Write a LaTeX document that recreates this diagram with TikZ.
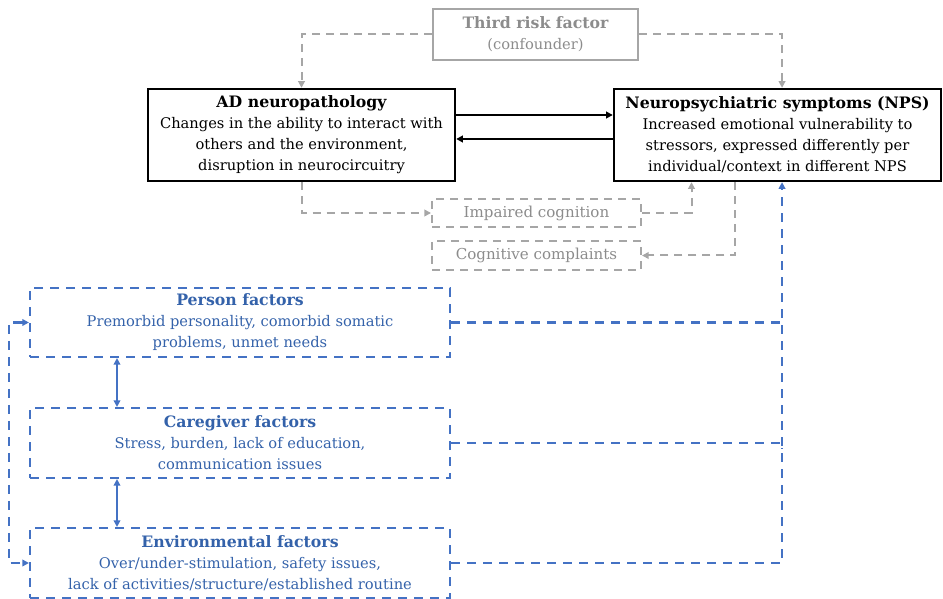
\documentclass[tikz,border=0pt]{standalone}
\usepackage{fontspec}
\setmainfont{DejaVu Serif}
\usetikzlibrary{arrows.meta,positioning,calc}
\definecolor{lblue}{HTML}{4472C4}
\definecolor{tblue}{HTML}{3462AA}
\definecolor{lgray}{HTML}{A6A6A6}
\definecolor{tgray}{HTML}{8C8C8C}
\newcommand{\ttl}[1]{{\fontsize{11.8}{15.75}\selectfont\bfseries #1}}
\tikzset{
  px/.style={x=0.75pt,y=-0.75pt},
  txt/.style={font=\fontsize{11}{15.75}\selectfont},
  blackbox/.style={draw=black,line width=1.8pt,align=center,inner sep=2pt,txt},
  graybox/.style={draw=lgray,line width=1.5pt,align=center,inner sep=2pt,text=tgray,txt},
  graydash/.style={graybox,dash pattern=on 6pt off 4.5pt,font=\fontsize{11.3}{15.75}\selectfont},
  bluebox/.style={draw=lblue,line width=1.6pt,dash pattern=on 7pt off 5pt,align=center,inner sep=2pt,text=tblue,txt},
  grayline/.style={draw=lgray,line width=1.5pt,dash pattern=on 6pt off 4.5pt,-{Triangle[length=5pt,width=5pt]}},
  blueplain/.style={draw=lblue,line width=1.6pt,dash pattern=on 7pt off 5pt},
  blueline/.style={blueplain,-{Triangle[length=5pt,width=5pt]}},
  bluedashdbl/.style={blueplain,{Triangle[length=5pt,width=5pt]}-{Triangle[length=5pt,width=5pt]}},
  blackarr/.style={draw=black,line width=1.5pt,-{Triangle[length=5pt,width=5pt]}},
  bluedbl/.style={draw=lblue,line width=1.6pt,{Triangle[length=5pt,width=5pt]}-{Triangle[length=5pt,width=5pt]}},
}
\begin{document}
\begin{tikzpicture}[px]
\useasboundingbox (0,0) rectangle (943,599);
\node[graybox,minimum width=153.75pt,minimum height=38.25pt] (third) at (535.5,34.5)
  {\ttl{Third risk factor}\\(confounder)};
\node[blackbox,minimum width=230.25pt,minimum height=69pt] (ad) at (301.5,135)
  {\ttl{AD neuropathology}\\Changes in the ability to interact with\\others and the environment,\\disruption in neurocircuitry};
\node[blackbox,minimum width=245.25pt,minimum height=69pt] (nps) at (777.5,135)
  {\ttl{Neuropsychiatric symptoms (NPS)}\\Increased emotional vulnerability to\\stressors, expressed differently per\\individual/context in different NPS};
\node[graydash,minimum width=156.75pt,minimum height=21pt] (imp) at (536.5,213) {Impaired cognition};
\node[graydash,minimum width=156.75pt,minimum height=21.75pt] (cog) at (536.5,255.5) {Cognitive complaints};
\node[bluebox,minimum width=315pt,minimum height=51.75pt] (person) at (240,322.5)
  {\ttl{Person factors}\\Premorbid personality, comorbid somatic\\problems, unmet needs};
\node[bluebox,minimum width=315pt,minimum height=52.5pt] (care) at (240,443)
  {\ttl{Caregiver factors}\\Stress, burden, lack of education,\\communication issues};
\node[bluebox,minimum width=315pt,minimum height=52.5pt] (env) at (240,563)
  {\ttl{Environmental factors}\\Over/under-stimulation, safety issues,\\lack of activities/structure/established routine};
% confounder
\draw[grayline] (third.west) -| (ad.north);
\draw[grayline] (third.east) -| ([xshift=3.4pt]nps.north);
% main arrows
\draw[blackarr] ([yshift=15pt]ad.east) -- ([yshift=15pt]nps.west);
\draw[blackarr] ([yshift=-3pt]nps.west) -- ([yshift=-3pt]ad.east);
% cognition
\draw[grayline] (ad.south) |- (imp.west);
\draw[grayline] (imp.east) -| ([xshift=-64.5pt]nps.south);
\draw[grayline] ([xshift=-31.9pt]nps.south) |- (cog.east);
% blue
\draw[blueline] (env.east) -| ([xshift=3.4pt]nps.south);
\draw[blueplain] (person.east) -| ([xshift=3.4pt,yshift=-100pt]nps.south);
\draw[blueplain] (care.east) -| ([xshift=3.4pt,yshift=-200pt]nps.south);
\draw[bluedashdbl] (person.west) -- ++(-15pt,0) |- (env.west);
\draw[bluedbl] ([xshift=-92.25pt]person.south) -- ([xshift=-92.25pt]care.north);
\draw[bluedbl] ([xshift=-92.25pt]care.south) -- ([xshift=-92.25pt]env.north);
\end{tikzpicture}
\end{document}
